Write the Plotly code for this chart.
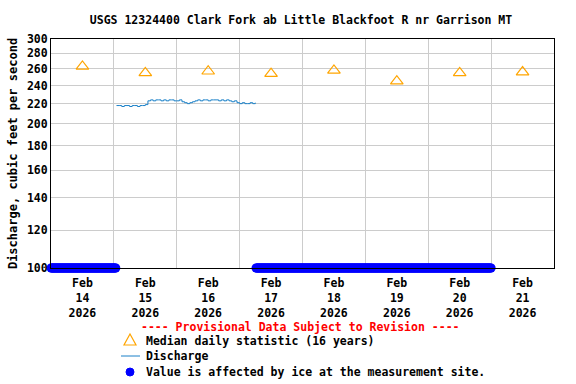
import pandas as pd
import plotly.graph_objects as go

# ---------------- data ----------------
median_dates = ["2026-02-14 12:00", "2026-02-15 12:00", "2026-02-16 12:00", "2026-02-17 12:00",
                "2026-02-18 12:00", "2026-02-19 12:00", "2026-02-20 12:00", "2026-02-21 12:00"]
median_values = [263, 255, 257, 254, 258, 245, 255, 256]

discharge_start = "2026-02-15 01:00"
discharge_values = [
    218, 218, 217, 218, 218, 217, 218, 218, 217, 218, 218,          # Feb 15 01-11
    219,                                                             # Feb 15 12
    223, 224, 223, 224, 224, 223, 224, 223, 224, 224, 223,          # Feb 15 13-23
    223, 224, 222, 221, 220, 221, 222, 223, 224, 223, 224, 224,     # Feb 16 00-11
    223, 224, 224, 224, 223, 224, 223, 224, 223, 222, 223, 221,     # Feb 16 12-23
    220, 221, 220, 220, 221, 220, 221,                              # Feb 17 00-06
]
discharge_times = pd.date_range(discharge_start, periods=len(discharge_values), freq="h")

ice_periods = [("2026-02-14 00:00", "2026-02-15 00:45"),
               ("2026-02-17 06:15", "2026-02-21 00:00")]
ice_level = 100

tick_vals = median_dates
tick_text = ["Feb<br>14<br>2026", "Feb<br>15<br>2026", "Feb<br>16<br>2026", "Feb<br>17<br>2026",
             "Feb<br>18<br>2026", "Feb<br>19<br>2026", "Feb<br>20<br>2026", "Feb<br>21<br>2026"]
day_lines = ["2026-02-15", "2026-02-16", "2026-02-17", "2026-02-18",
             "2026-02-19", "2026-02-20", "2026-02-21"]
y_ticks = [100, 120, 140, 160, 180, 200, 220, 240, 260, 280, 300]

legend_labels = ["Median daily statistic (16 years)", "Discharge",
                 "Value is affected by ice at the measurement site."]

# ---------------- layout geometry (pixels) ----------------
W, H = 576, 384
L, R, T, B = 51, 22, 39, 116
PW, PH = W - L - R, H - T - B


def px(x):
    return (x - L) / PW


def py(y):
    return (H - B - y) / PH


FONT = "DejaVu Sans Mono"
MEDIAN_C = "#FFA500"
Q_C = "#1a80c8"
ICE_C = "#0000FF"

fig = go.Figure()

ice_x = []
ice_y = []
for a, b in ice_periods:
    t = pd.date_range(a, b, freq="15min")
    ice_x += list(t)
    ice_y += [ice_level] * len(t)
    ice_x.append(None)
    ice_y.append(None)

fig.add_trace(go.Scatter(
    x=median_dates, y=median_values, mode="markers", name=legend_labels[0],
    marker=dict(symbol="triangle-up-open", size=11, color=MEDIAN_C, line=dict(width=1.2)),
    cliponaxis=False,
))
fig.add_trace(go.Scatter(
    x=discharge_times, y=discharge_values, mode="lines", line_shape="hv",
    name=legend_labels[1], line=dict(color=Q_C, width=1),
))
fig.add_trace(go.Scatter(
    x=ice_x, y=ice_y, mode="markers", name=legend_labels[2],
    marker=dict(symbol="circle", size=9, color=ICE_C),
    cliponaxis=False,
))

# manual legend below the plot
legend_rows = [341, 356, 372]
annotations = [dict(text="---- Provisional Data Subject to Revision ----",
                    xref="paper", yref="paper", x=px(300), y=py(327),
                    xanchor="center", yanchor="middle", showarrow=False,
                    font=dict(family=FONT, size=11.5, color="red", weight="bold"))]
for lab, row in zip(legend_labels, legend_rows):
    annotations.append(dict(text=lab, xref="paper", yref="paper", x=px(144), y=py(row),
                            xanchor="left", yanchor="middle", showarrow=False,
                            font=dict(family=FONT, size=11.5, color="black", weight="bold")))

shapes = [
    dict(type="path", xref="paper", yref="paper",
         path=f"M {px(130)},{py(334)} L {px(136)},{py(345)} L {px(124)},{py(345)} Z",
         line=dict(color=MEDIAN_C, width=1.2), fillcolor="rgba(0,0,0,0)"),
    dict(type="line", xref="paper", yref="paper", x0=px(121), x1=px(140),
         y0=py(356), y1=py(356), line=dict(color=Q_C, width=1)),
    dict(type="circle", xref="paper", yref="paper", x0=px(126), x1=px(134),
         y0=py(376), y1=py(368), line=dict(color=ICE_C, width=1), fillcolor=ICE_C),
]

fig.update_layout(
    width=W, height=H,
    margin=dict(l=L, r=R, t=T, b=B, autoexpand=False),
    paper_bgcolor="white", plot_bgcolor="white",
    font=dict(family=FONT, size=11.5, color="black", weight="bold"),
    title=dict(text="USGS 12324400 Clark Fork ab Little Blackfoot R nr Garrison MT",
               x=301 / W, xanchor="center", y=1 - 20 / H, yanchor="middle",
               font=dict(family=FONT, size=11.5, color="black", weight="bold")),
    showlegend=False,
    annotations=annotations,
    shapes=shapes,
)

fig.update_xaxes(
    type="date", range=["2026-02-14", "2026-02-22"], automargin=False,
    tickmode="array", tickvals=tick_vals, ticktext=tick_text, ticklabelstandoff=4,
    showgrid=False, ticks="", showline=True, linecolor="black", linewidth=1, mirror=True,
    minor=dict(tickmode="array", tickvals=day_lines, showgrid=True,
               gridcolor="#cccccc", gridwidth=1, ticks=""),
    zeroline=False,
)
fig.update_yaxes(
    type="log", range=[2, 2.4771213], automargin=False,
    tickmode="array", tickvals=y_ticks, ticktext=[str(v) for v in y_ticks],
    showgrid=True, gridcolor="#cccccc", gridwidth=1, ticks="",
    showline=True, linecolor="black", linewidth=1, mirror=True,
    title=dict(text="Discharge, cubic feet per second", standoff=6,
               font=dict(family=FONT, size=12, color="black", weight="bold")),
    zeroline=False,
)

fig.write_html("out.html", config={"displayModeBar": False},
               post_script="document.body.style.margin='0';")
